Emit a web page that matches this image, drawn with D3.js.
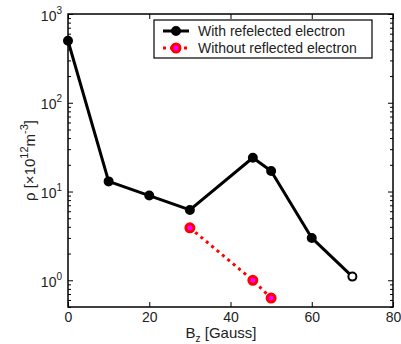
<!DOCTYPE html>
<html>
<head>
<meta charset="utf-8">
<script src="https://cdn.jsdelivr.net/npm/d3@7"></script>
<style>
  body { margin: 0; background: #fff; }
  svg { display: block; font-family: "Liberation Sans", Arial, sans-serif; }
</style>
</head>
<body>
<div id="chart"></div>
<script>
// data
const bzWith = [0, 10, 20, 30, 45.5, 50, 60, 70];
const rhoWith = [500, 13, 9, 6.2, 24, 17, 3, 1.1];
const bzWithout = [30, 45.5, 50];
const rhoWithout = [3.9, 1.0, 0.63];
const xTicks = [0, 20, 40, 60, 80];
const yTicks = [1, 10, 100, 1000];
const legendLabels = ["With refelected electron", "Without reflected electron"];

const W = 401, H = 344;
const mLeft = 68, mRight = 393, mTop = 14, mBottom = 307;

const svg = d3.select("#chart").append("svg").attr("width", W).attr("height", H);

const x = d3.scaleLinear().domain([0, 80]).range([mLeft, mRight]);
const y = d3.scaleLog().domain([0.5, 1000]).range([mBottom, mTop]);

// minor log ticks
let minor = [];
for (let e = -1; e < 3; e++) {
  for (let m = 2; m <= 9; m++) {
    let v = m * Math.pow(10, e);
    if (v >= 0.5 && v <= 1000) minor.push(v);
  }
}

function styleAxis(g) {
  g.select(".domain").remove();
  g.selectAll(".tick line").attr("stroke", "#000").attr("stroke-width", 1);
  g.selectAll(".tick text").attr("fill", "#222").style("font-size", "14px");
}

// bottom & top x axes (ticks inward)
svg.append("g").attr("transform", `translate(0,${mBottom})`)
  .call(d3.axisBottom(x).tickValues(xTicks).tickSizeInner(-5).tickSizeOuter(0).tickPadding(5))
  .call(styleAxis);
svg.append("g").attr("transform", `translate(0,${mTop})`)
  .call(d3.axisTop(x).tickValues(xTicks).tickSizeInner(-5).tickSizeOuter(0).tickFormat(""))
  .call(styleAxis);

// left axis with 10^n labels
const yl = svg.append("g").attr("transform", `translate(${mLeft},0)`)
  .call(d3.axisLeft(y).tickValues(yTicks).tickSizeInner(-5).tickSizeOuter(0).tickFormat(""))
  .call(styleAxis);
yl.selectAll(".tick").each(function(d) {
  const t = d3.select(this).append("text")
    .attr("x", -6).attr("y", 6).attr("text-anchor", "end")
    .attr("fill", "#222").style("font-size", "14px");
  t.append("tspan").text("10");
  t.append("tspan").attr("dy", -7).style("font-size", "10px").text(Math.round(Math.log10(d)));
});
svg.append("g").attr("transform", `translate(${mLeft},0)`)
  .call(d3.axisLeft(y).tickValues(minor).tickSizeInner(-3).tickSizeOuter(0).tickFormat(""))
  .call(styleAxis);

// right axis
svg.append("g").attr("transform", `translate(${mRight},0)`)
  .call(d3.axisRight(y).tickValues(yTicks).tickSizeInner(-5).tickSizeOuter(0).tickFormat(""))
  .call(styleAxis);
svg.append("g").attr("transform", `translate(${mRight},0)`)
  .call(d3.axisRight(y).tickValues(minor).tickSizeInner(-3).tickSizeOuter(0).tickFormat(""))
  .call(styleAxis);

// frame
svg.append("rect").attr("x", mLeft).attr("y", mTop)
  .attr("width", mRight - mLeft).attr("height", mBottom - mTop)
  .attr("fill", "none").attr("stroke", "#000").attr("stroke-width", 1.5);

// axis labels
const xl = svg.append("text").attr("x", 221).attr("y", 338)
  .attr("text-anchor", "middle").attr("fill", "#222").style("font-size", "15px");
xl.append("tspan").text("B");
xl.append("tspan").attr("dy", 4).style("font-size", "10px").text("z");
xl.append("tspan").attr("dy", -4).text(" [Gauss]");

const ylab = svg.append("text")
  .attr("transform", `translate(35,${(mTop + mBottom) / 2}) rotate(-90)`)
  .attr("text-anchor", "middle").attr("fill", "#222").style("font-size", "15px");
ylab.append("tspan").text("ρ [×10");
ylab.append("tspan").attr("dy", -7).style("font-size", "11px").text("12");
ylab.append("tspan").attr("dy", 7).text("m");
ylab.append("tspan").attr("dy", -7).style("font-size", "11px").text("-3");
ylab.append("tspan").attr("dy", 7).text("]");

const line = d3.line().x(d => x(d[0])).y(d => y(d[1]));
const withPts = bzWith.map((b, i) => [b, rhoWith[i]]);
const withoutPts = bzWithout.map((b, i) => [b, rhoWithout[i]]);

// series: with reflected electron
svg.append("path").datum(withPts).attr("d", line)
  .attr("fill", "none").attr("stroke", "#000").attr("stroke-width", 3)
  .attr("stroke-linejoin", "round");
svg.selectAll(".mw").data(withPts).enter().append("circle")
  .attr("cx", d => x(d[0])).attr("cy", d => y(d[1])).attr("r", 4)
  .attr("fill", (d, i) => i === withPts.length - 1 ? "#fff" : "#000")
  .attr("stroke", "#000").attr("stroke-width", 2);

// series: without reflected electron
svg.append("path").datum(withoutPts).attr("d", line)
  .attr("fill", "none").attr("stroke", "#ff0000").attr("stroke-width", 3)
  .attr("stroke-dasharray", "3,4");
svg.selectAll(".mo").data(withoutPts).enter().append("circle")
  .attr("cx", d => x(d[0])).attr("cy", d => y(d[1])).attr("r", 4)
  .attr("fill", "#ff00ff").attr("stroke", "#ff0000").attr("stroke-width", 3);

// legend
const lg = svg.append("g");
lg.append("rect").attr("x", 154).attr("y", 20).attr("width", 218).attr("height", 38)
  .attr("fill", "#fff").attr("stroke", "#000").attr("stroke-width", 1.2);
const rows = [
  { y: 31, stroke: "#000", fill: "#000", dash: null, mstroke: "#000", mw: 2 },
  { y: 48, stroke: "#ff0000", fill: "#ff00ff", dash: "3,4", mstroke: "#ff0000", mw: 3 }
];
rows.forEach((r, i) => {
  lg.append("line").attr("x1", 163).attr("x2", 189).attr("y1", r.y).attr("y2", r.y)
    .attr("stroke", r.stroke).attr("stroke-width", 3).attr("stroke-dasharray", r.dash);
  lg.append("circle").attr("cx", 176).attr("cy", r.y).attr("r", 4)
    .attr("fill", r.fill).attr("stroke", r.mstroke).attr("stroke-width", r.mw);
  lg.append("text").attr("x", 198).attr("y", r.y + 5).attr("fill", "#222")
    .style("font-size", "14px").text(legendLabels[i]);
});
</script>
</body>
</html>
